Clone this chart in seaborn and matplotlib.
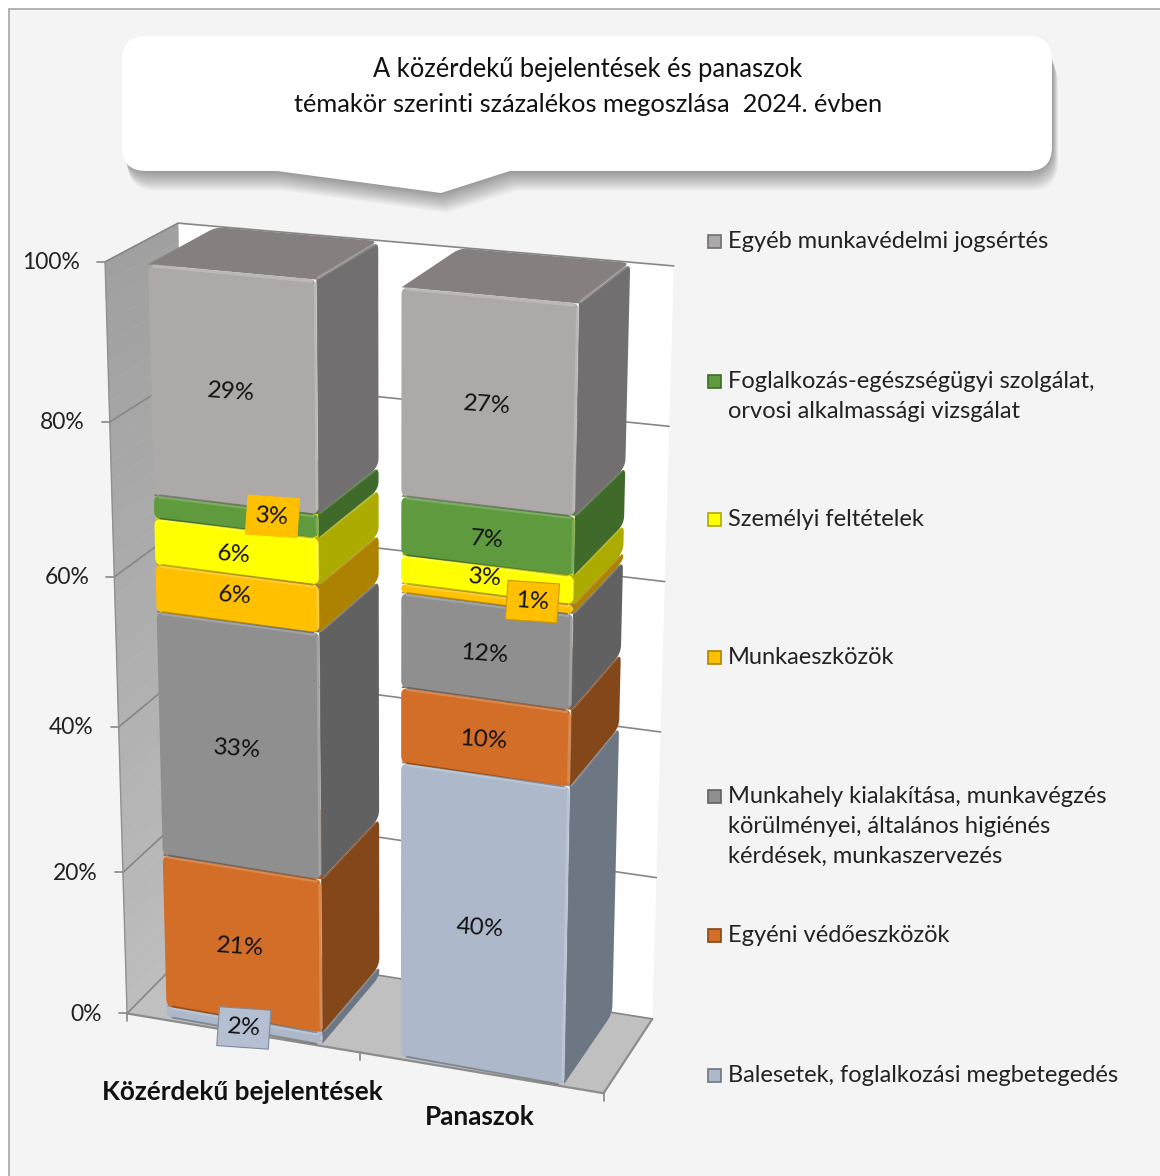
import numpy as np
import matplotlib
matplotlib.use('Agg')
import matplotlib.pyplot as plt
from matplotlib.path import Path
from matplotlib.patches import PathPatch, Polygon, Rectangle
import seaborn as sns

categories = ['Közérdekű bejelentések', 'Panaszok']
series_names = ['Balesetek, foglalkozási megbetegedés',
                'Egyéni védőeszközök',
                'Munkahely kialakítása, munkavégzés\nkörülményei, általános higiénés\nkérdések, munkaszervezés',
                'Munkaeszközök',
                'Személyi feltételek',
                'Foglalkozás-egészségügyi szolgálat,\norvosi alkalmassági vizsgálat',
                'Egyéb munkavédelmi jogsértés']
# heights, printed labels as written on the bars
values_bejelentes = [1.6, 21.3, 32.9, 6.2, 6.0, 3.0, 29.0]
values_panasz = [40.1, 9.9, 12.2, 1.2, 3.6, 7.4, 25.6]
labels_bejelentes = [2, 21, 33, 6, 6, 3, 29]
labels_panasz = [40, 10, 12, 1, 3, 7, 27]
yticks = [0, 20, 40, 60, 80, 100]

front_colors = ['#ADB9CA', '#D26E28', '#8F8F8F', '#FFC000', '#FFFF00', '#5F9B3E', '#ADA9A8']
side_colors = ['#6D7683', '#844719', '#616161', '#AD8200', '#ABAB00', '#3F6A2A', '#716F6F']
top_colors = ['#8C96A5', '#A85A20', '#767676', '#D09E00', '#D8D800', '#4E8034', '#85807F']

BAR_W = 0.67
D0, D1 = 0.03, 0.985

# pixel positions of known corners, used to fit the 3d view: (x, value, depth) -> (px, py)
anchors = [
    (-.5, 0, 0, 127, 1015), (-.5, 20, 0, 123, 873), (-.5, 40, 0, 118, 727), (-.5, 60, 0, 113, 576),
    (-.5, 80, 0, 110, 421), (-.5, 100, 0, 104, 260), (-.5, 100, 1, 177, 222), (-.5, 0, 1, 196, 948),
    (1.5, 0, 1, 653, 1022), (1.5, 100, 1, 675, 263), (1.5, 0, 0, 604, 1094), (.5, 0, 0, 360, 1053),
    (-.335, 100, D0, 150, 265), (.335, 100, D0, 315, 280), (.665, 100, D0, 403, 288), (1.335, 100, D0, 578, 305),
    (-.335, 0, D0, 168, 1018), (.335, 0, D0, 320, 1043), (.665, 0, D0, 403, 1055), (1.335, 0, D0, 564, 1083),
    (.335, 100, D1, 376, 243), (1.335, 100, D1, 629, 263), (.335, 0, D1, 376, 972), (1.335, 0, D1, 612, 1013),
    (-.335, 100, D1, 218, 228), (.665, 100, D1, 462, 249),
]

rows, rhs = [], []
for x, v, d, px_, py_ in anchors:
    X = [x, v / 100, d, 1]
    rows.append(X + [0, 0, 0, 0] + [-px_ * c for c in X[:3]])
    rhs.append(px_)
    rows.append([0, 0, 0, 0] + X + [-py_ * c for c in X[:3]])
    rhs.append(py_)
sol = np.linalg.lstsq(np.array(rows, float), np.array(rhs, float), rcond=None)[0]
P = np.append(sol, 1).reshape(3, 4)


def proj(x, v, d):
    h = P @ np.array([x, v / 100, d, 1.0])
    return np.array([h[0] / h[2], h[1] / h[2]])


def rounded(pts, r, corners=None):
    pts = [np.asarray(p, float) for p in pts]
    n = len(pts)
    if corners is None:
        corners = range(n)
    verts, codes = [], []
    for i in range(n):
        p, a, b = pts[i], pts[i - 1], pts[(i + 1) % n]
        if i in corners:
            ra = min(r, np.linalg.norm(a - p) / 2)
            rb = min(r, np.linalg.norm(b - p) / 2)
            p1 = p + (a - p) / np.linalg.norm(a - p) * ra
            p2 = p + (b - p) / np.linalg.norm(b - p) * rb
            verts += [p1, p, p2]
            codes += [Path.LINETO, Path.CURVE3, Path.CURVE3]
        else:
            verts.append(p)
            codes.append(Path.LINETO)
    codes[0] = Path.MOVETO
    verts.append(verts[0])
    codes.append(Path.CLOSEPOLY)
    return Path(verts, codes)


sns.set_theme(style='white')
plt.rcParams['font.family'] = ['Lato', 'DejaVu Sans']

fig = plt.figure(figsize=(11.6, 11.76), dpi=100, facecolor='white')

# the bars themselves come from seaborn, the hidden axes holds them in (category, percent) units
ax = fig.add_axes([0, 0, 1, 1])
table = np.array([values_bejelentes, values_panasz], float)
label_table = [labels_bejelentes, labels_panasz]
bottoms = np.vstack([[0, 0], np.cumsum(table, axis=1).T[:-1]])
for i, name in enumerate(series_names):
    sns.barplot(x=categories, y=table[:, i], bottom=bottoms[i], width=BAR_W, color=front_colors[i],
                saturation=1, errorbar=None, ax=ax)
ax.set_visible(False)

px = fig.add_axes([0, 0, 1, 1])
px.set_xlim(0, 1160)
px.set_ylim(1176, 0)
px.axis('off')

# background and border
px.add_patch(Rectangle((8.5, 8.5), 1160, 1176, fc='#F4F4F4', ec='#A6A6A6', lw=1.2, zorder=0))

# callout, the shadow is a stack of faint copies
callout = [(122, 36), (1052, 36), (1052, 171), (510, 171), (441, 193), (277, 171), (122, 171)]
for k in range(1, 21):
    shadow = np.array(callout, float) + [k * 0.3, k * 1.0]
    px.add_patch(PathPatch(rounded(shadow, 28, [0, 1, 2, 6]), fc='black', ec='none', alpha=0.018, zorder=1))
px.add_patch(PathPatch(rounded(callout, 24, [0, 1, 2, 6]), fc='white', ec='none', zorder=2))
px.text(588, 70, 'A közérdekű bejelentések és panaszok', ha='center', va='center', fontsize=18.4, color='#111111', zorder=3)
px.text(588, 105, 'témakör szerinti százalékos megoszlása  2024. évben', ha='center', va='center', fontsize=18.3, color='#111111', zorder=3)

# walls and floor
px.add_patch(Polygon([proj(-.5, 0, 1), proj(1.5, 0, 1), proj(1.5, 100, 1), proj(-.5, 100, 1)], fc='white', ec='none', zorder=3))
strips = np.linspace(0, 100, 41)
for s0, s1 in zip(strips[:-1], strips[1:]):
    g = 0.74 - 0.115 * (s0 / 100)
    px.add_patch(Polygon([proj(-.5, s0, 0), proj(-.5, s0, 1), proj(-.5, s1, 1), proj(-.5, s1, 0)],
                         fc=(g, g, g), ec=(g, g, g), lw=0.3, zorder=3))
px.add_patch(Polygon([proj(-.5, 0, 0), proj(1.5, 0, 0), proj(1.5, 0, 1), proj(-.5, 0, 1)], fc='#C0C0C0', ec='none', zorder=3))

line_c = '#868686'
for v in yticks:
    a, b, c = proj(-.5, v, 0), proj(-.5, v, 1), proj(1.5, v, 1)
    px.plot([a[0], b[0], c[0]], [a[1], b[1], c[1]], color=line_c, lw=1.2, zorder=4)
    px.plot([a[0] - 8, a[0]], [a[1], a[1]], color=line_c, lw=1.2, zorder=4)
    px.text(a[0] - 25, a[1] + 1, f'{v}%', ha='right', va='center', fontsize=16.5, color='#222222', zorder=4)
e = [proj(-.5, 0, 0), proj(1.5, 0, 0), proj(1.5, 0, 1)]
px.plot([p[0] for p in e], [p[1] for p in e], color='#8C8C8C', lw=1.6, zorder=4)
for x in [-.5, .5, 1.5]:
    p = proj(x, 0, 0)
    px.plot([p[0], p[0]], [p[1], p[1] + 8], color=line_c, lw=1.2, zorder=4)
a, b = proj(-.5, 0, 0), proj(-.5, 100, 0)
px.plot([a[0], b[0]], [a[1], b[1]], color='#909090', lw=1, zorder=4)

# turn each seaborn bar into front, side and top faces
bars = ax.patches
for k, bar in enumerate(bars):
    i, j = k // 2, k % 2
    x0, x1 = bar.get_x(), bar.get_x() + bar.get_width()
    v0, v1 = bar.get_y(), bar.get_y() + bar.get_height()
    front = [proj(x0, v0, D0), proj(x1, v0, D0), proj(x1, v1, D0), proj(x0, v1, D0)]
    side = [proj(x1, v0, D0), proj(x1, v0, D1), proj(x1, v1, D1), proj(x1, v1, D0)]
    top = [proj(x0, v1, D0), proj(x1, v1, D0), proj(x1, v1, D1), proj(x0, v1, D1)]
    zz = 5 + i * 0.1
    px.add_patch(PathPatch(rounded(top, 8, [2, 3]), fc=top_colors[i], ec='none', zorder=zz))
    px.add_patch(PathPatch(rounded(side, 8, [1, 2]), fc=side_colors[i], ec='none', zorder=zz))
    px.add_patch(PathPatch(rounded(front, 7), fc=front_colors[i], ec='none', zorder=zz + 0.01))
    # bevel highlights and the dark lower rim
    light = dict(color='white', alpha=0.18, lw=2.4, solid_capstyle='round', zorder=zz + 0.02)
    px.plot([front[3][0] + 6, front[2][0] - 5], [front[3][1] + 1.5, front[2][1] + 1.5], **light)
    px.plot([front[2][0] - 1, front[1][0] - 1], [front[2][1] + 5, front[1][1] - 5], **light)
    px.plot([front[2][0] + 2, top[2][0] - 3], [front[2][1] - 2, top[2][1] + 3], **light)
    px.plot([front[0][0] + 6, front[1][0] - 6], [front[0][1], front[1][1]], color='black', alpha=0.28, lw=1.3, zorder=zz + 0.02)

# data labels, small ones sit in a tinted box moved off the bar centre
boxed = {(5, 0): (37, 0, '#FFC000', '#FFC000'), (0, 0): (0, 3, '#B4C0D2', '#7F8A99'), (3, 1): (46, 3, '#FFC000', '#C99A00')}
nudge = {(3, 0): (-2, -3), (4, 1): (-1, -2), (5, 1): (0, 4), (6, 1): (-1, 3), (2, 1): (-2, 3), (1, 1): (-2, 3), (0, 1): (-3, 3)}
for k, bar in enumerate(bars):
    i, j = k // 2, k % 2
    mid_x = bar.get_x() + bar.get_width() / 2
    mid_v = bar.get_y() + bar.get_height() / 2
    p = proj(mid_x, mid_v, D0)
    dx, dy, fc, ec = boxed.get((i, j), (*nudge.get((i, j), (-2, 3)), None, None))
    txt = px.text(p[0] + dx, p[1] + dy, f'{label_table[j][i]}%', ha='center', va='center', rotation=-4,
                  fontsize=17.5, color='#111111', zorder=7)
    if fc:
        txt.set_bbox(dict(fc=fc, ec=ec, lw=0.8, pad=6.5))

# category labels
px.text(242, 1092, categories[0], ha='center', va='center', fontsize=18.8, fontweight='bold', color='#111111', zorder=7)
px.text(480, 1117, categories[1], ha='center', va='center', fontsize=18.8, fontweight='bold', color='#111111', zorder=7)

# legend
legend_y = [1075, 935, 796, 657, 519, 381, 241]
for i, name in enumerate(series_names):
    y = legend_y[i]
    px.add_patch(Rectangle((708, y - 6.5), 13, 13, fc=front_colors[i], ec=side_colors[i], lw=1.2, zorder=7))
    px.text(728, y - 10, name, ha='left', va='top', fontsize=17, color='#222222', linespacing=1.52, zorder=7)

fig.savefig('out.png', dpi=100, facecolor='white')
